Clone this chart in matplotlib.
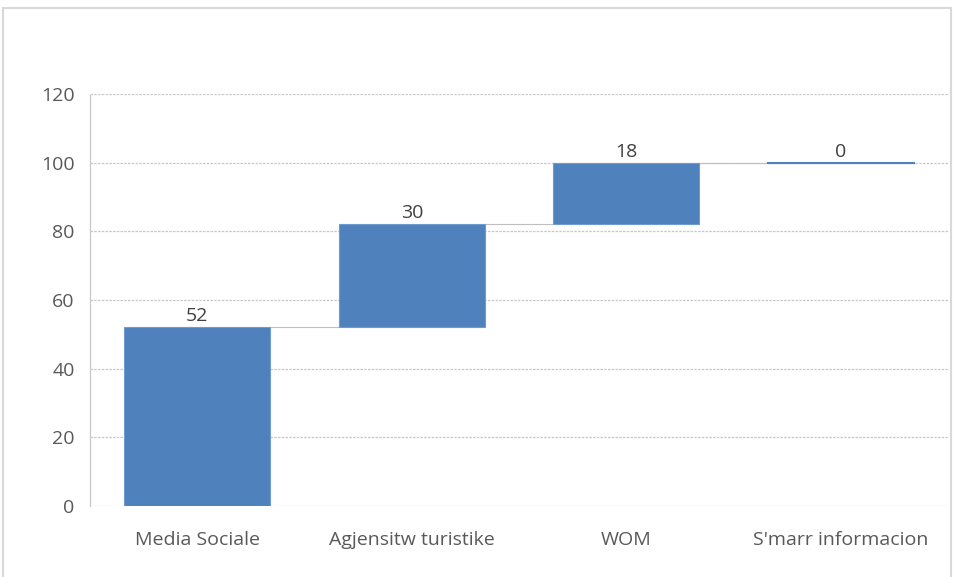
import matplotlib.pyplot as plt
from matplotlib.patches import Rectangle

categories = ['Media Sociale', 'Agjensitw turistike', 'WOM', "S'marr informacion"]
values = [52, 30, 18, 0]
yticks = [0, 20, 40, 60, 80, 100, 120]

plt.rcParams['font.family'] = ['Open Sans', 'DejaVu Sans']

bar_color = '#4f81bd'
text_color = '#595959'
grid_color = '#c8c8c8'

fig = plt.figure(figsize=(9.54, 5.77), dpi=100)
ax = fig.add_axes([90 / 954, 1 - 506 / 577, 858 / 954, 412 / 577])

# running totals for the waterfall
bases = []
total = 0
for v in values:
    bases.append(total)
    total += v

x = list(range(len(categories)))
ax.bar(x, values, bottom=bases, width=0.68, color=bar_color,
       edgecolor='#6f9bd1', linewidth=0.8, zorder=3)

# zero-height step shows up as a thin line
for i, v in enumerate(values):
    if v == 0:
        ax.plot([i - 0.34, i + 0.34], [bases[i], bases[i]], color=bar_color,
                linewidth=1.5, zorder=4)

# connectors between steps
for i in range(len(values) - 1):
    top = bases[i] + values[i]
    ax.plot([i + 0.34, i + 1 - 0.34], [top, top], color='#bfbfbf',
            linewidth=0.8, zorder=2)

for i, v in enumerate(values):
    ax.text(i, bases[i] + v + 0.6, str(v), ha='center', va='bottom',
            fontsize=14, color='#404040', zorder=5)

ax.set_xlim(-0.5, len(categories) - 0.5)
ax.set_ylim(0, 120)
ax.set_yticks(yticks)
ax.set_xticks(x)
ax.set_xticklabels(categories)
ax.tick_params(axis='both', length=0, labelsize=14, colors=text_color)
ax.tick_params(axis='x', pad=18)
ax.tick_params(axis='y', pad=11)

ax.yaxis.grid(True, color=grid_color, linestyle=(0, (2, 1)), linewidth=0.9, zorder=0)
ax.set_axisbelow(True)
for side in ['top', 'right', 'bottom']:
    ax.spines[side].set_visible(False)
ax.spines['left'].set_color(grid_color)
ax.spines['left'].set_linestyle((0, (2, 1)))
ax.spines['left'].set_linewidth(0.9)

# chart area frame
fig.patches.append(Rectangle((3 / 954, -0.02), 948 / 954, 1 - 8 / 577 + 0.02,
                             transform=fig.transFigure, fill=False,
                             edgecolor='#d9d9d9', linewidth=1.5))

fig.savefig('out.png', dpi=100)
